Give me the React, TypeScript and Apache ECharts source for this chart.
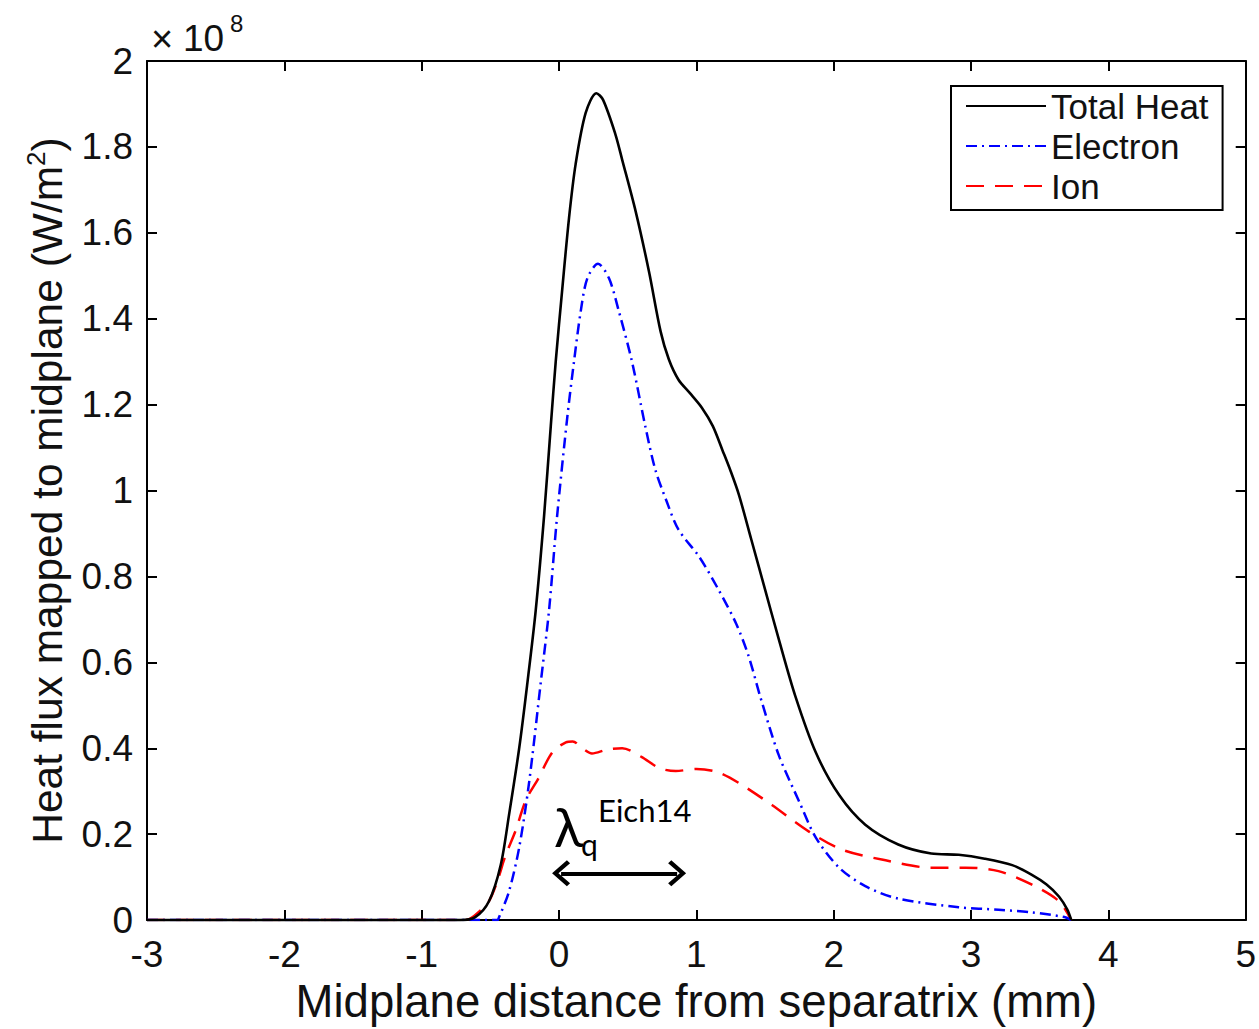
import React, { useEffect, useRef } from 'react';
import * as echarts from 'echarts';

// Heat flux values in units of 1e8 W/m^2, x in mm
const totalX = [-3, -0.72, -0.61, -0.51, -0.424, -0.364, -0.29, -0.23, -0.17, -0.109, -0.06, -0.024, 0.024, 0.073, 0.121, 0.194, 0.272, 0.32, 0.41, 0.46, 0.558, 0.655, 0.74, 0.8, 0.87, 0.95, 1.04, 1.12, 1.19, 1.25, 1.31, 1.4, 1.5, 1.6, 1.72, 1.87, 2.04, 2.23, 2.47, 2.71, 2.91, 3.1, 3.3, 3.44, 3.55, 3.64, 3.7, 3.73];
const totalY = [0, 0, 0.007, 0.044, 0.129, 0.245, 0.4, 0.553, 0.72, 0.94, 1.15, 1.3, 1.47, 1.635, 1.76, 1.879, 1.925, 1.91, 1.83, 1.77, 1.65, 1.51, 1.37, 1.305, 1.258, 1.228, 1.193, 1.15, 1.094, 1.045, 0.99, 0.886, 0.77, 0.654, 0.522, 0.39, 0.291, 0.222, 0.176, 0.155, 0.152, 0.143, 0.128, 0.106, 0.083, 0.055, 0.025, 0];

const electronX = [-3, -0.45, -0.436, -0.364, -0.29, -0.218, -0.133, -0.073, -0.014, 0.06, 0.109, 0.158, 0.206, 0.284, 0.364, 0.436, 0.53, 0.63, 0.7, 0.78, 0.87, 1.02, 1.16, 1.29, 1.38, 1.47, 1.6, 1.75, 1.87, 2.04, 2.23, 2.47, 2.91, 3.2, 3.44, 3.68, 3.73];
const electronY = [0, 0, 0.007, 0.067, 0.169, 0.32, 0.553, 0.72, 0.94, 1.17, 1.3, 1.417, 1.494, 1.528, 1.494, 1.417, 1.302, 1.147, 1.05, 0.978, 0.909, 0.846, 0.77, 0.69, 0.615, 0.515, 0.384, 0.275, 0.192, 0.122, 0.079, 0.05, 0.03, 0.024, 0.018, 0.007, 0];

const ionX = [-3, -0.7, -0.65, -0.58, -0.51, -0.45, -0.39, -0.32, -0.24, -0.15, -0.05, 0.05, 0.1, 0.17, 0.24, 0.35, 0.46, 0.6, 0.73, 0.85, 1.0, 1.15, 1.31, 1.55, 1.82, 2.06, 2.35, 2.71, 2.96, 3.2, 3.44, 3.64, 3.73];
const ionY = [0, 0, 0.003, 0.02, 0.044, 0.09, 0.15, 0.205, 0.28, 0.33, 0.39, 0.414, 0.416, 0.4, 0.388, 0.397, 0.4, 0.38, 0.354, 0.347, 0.352, 0.345, 0.319, 0.268, 0.206, 0.164, 0.141, 0.122, 0.122, 0.114, 0.083, 0.044, 0];

const seriesNames = ['Total Heat', 'Electron', 'Ion'];
const xRange = [-3, 5];
const yRange = [0, 2];
const yStep = 0.2;
const xStep = 1;

// λq annotation (data coordinates)
const lambdaArrowStart = [0.015, 0.109];
const lambdaArrowEnd = [0.86, 0.109];
const lambdaLabelAt = [-0.036, 0.18];

const FONT = '"Liberation Sans", Arial, Helvetica, sans-serif';
const ANNOT_FONT = 'Lato, "Open Sans", sans-serif';

export default function App() {
  const ref = useRef<HTMLDivElement>(null);
  useEffect(() => {
    document.body.style.margin = '0';
    const chart = echarts.init(ref.current!, null, { renderer: 'svg' });
    const pair = (xs: number[], ys: number[]) => xs.map((x, i) => [x, ys[i]]);
    const axisLine = { show: true, onZero: false, lineStyle: { color: '#000', width: 2 } };
    const axisTick = { show: true, inside: true, length: 10, lineStyle: { color: '#000', width: 2 } };
    const chevron = 'path://M13,0 L26,14 L23,17 L13,6 L3,17 L0,14 Z';

    chart.setOption({
      animation: false,
      backgroundColor: '#fff',
      grid: { left: 147, right: 12, top: 61, bottom: 103, containLabel: false },
      xAxis: [
        {
          type: 'value', min: xRange[0], max: xRange[1], interval: xStep, position: 'bottom',
          axisLine, axisTick,
          axisLabel: { fontSize: 37, color: '#111', margin: 16, fontFamily: FONT },
          splitLine: { show: false },
          name: 'Midplane distance from separatrix (mm)', nameLocation: 'middle', nameGap: 52,
          nameTextStyle: { fontSize: 45.5, color: '#111', fontFamily: FONT },
        },
        {
          type: 'value', min: xRange[0], max: xRange[1], interval: xStep, position: 'top',
          axisLine, axisTick, axisLabel: { show: false }, splitLine: { show: false },
        },
      ],
      yAxis: [
        {
          type: 'value', min: yRange[0], max: yRange[1], interval: yStep, position: 'left',
          axisLine, axisTick,
          axisLabel: {
            fontSize: 37, color: '#111', margin: 14, fontFamily: FONT,
            formatter: (v: number) => String(+v.toFixed(1)),
          },
          splitLine: { show: false },
          name: 'Heat flux mapped to midplane (W/m{sup|2})', nameLocation: 'middle', nameGap: 76,
          nameTextStyle: {
            fontSize: 42.5, color: '#111', fontFamily: FONT,
            rich: { sup: { fontSize: 26, color: '#111', fontFamily: FONT, padding: [0, 0, 22, 0] } },
          },
        },
        {
          type: 'value', min: yRange[0], max: yRange[1], interval: yStep, position: 'right',
          axisLine, axisTick, axisLabel: { show: false }, splitLine: { show: false },
        },
      ],
      legend: {
        data: seriesNames,
        orient: 'vertical',
        left: 951, top: 86,
        padding: [2, 14, 6, 14],
        itemWidth: 80, itemHeight: 20, itemGap: 4,
        itemStyle: { opacity: 0, borderWidth: 0 },
        backgroundColor: '#fff', borderColor: '#000', borderWidth: 2,
        textStyle: { fontSize: 35, color: '#111', fontFamily: FONT, lineHeight: 36 },
      },
      series: [
        {
          name: seriesNames[0], type: 'line', data: pair(totalX, totalY), xAxisIndex: 0, yAxisIndex: 0,
          symbol: 'none', showSymbol: false, smooth: 0.3, z: 3,
          lineStyle: { color: '#000', width: 2.6, type: 'solid' }, itemStyle: { color: '#000' },
          markLine: {
            silent: true, symbol: [chevron, chevron], symbolSize: [26, 18],
            label: { show: false },
            lineStyle: { color: '#000', width: 4, type: 'solid' },
            itemStyle: { color: '#000' },
            data: [[{ coord: lambdaArrowStart }, { coord: lambdaArrowEnd }]],
          },
        },
        {
          name: seriesNames[1], type: 'line', data: pair(electronX, electronY),
          symbol: 'none', showSymbol: false, smooth: 0.3, z: 2,
          lineStyle: { color: '#0000ff', width: 2.5, type: [11, 5, 2, 5] }, itemStyle: { color: '#0000ff' },
        },
        {
          name: seriesNames[2], type: 'line', data: pair(ionX, ionY),
          symbol: 'none', showSymbol: false, smooth: 0.3, z: 1,
          lineStyle: { color: '#ff0000', width: 2.5, type: [18, 11] }, itemStyle: { color: '#ff0000' },
        },
      ],
    });

    const corner = chart.convertToPixel({ xAxisIndex: 0, yAxisIndex: 0 }, [xRange[0], yRange[1]]) as number[];
    const lam = chart.convertToPixel({ xAxisIndex: 0, yAxisIndex: 0 }, lambdaLabelAt) as number[];
    chart.setOption({
      graphic: [
        { type: 'text', x: corner[0] + 4, y: corner[1] - 22, style: { text: '×', font: `38px ${FONT}`, fill: '#111', verticalAlign: 'middle', align: 'left' } },
        { type: 'text', x: corner[0] + 36, y: corner[1] - 23, style: { text: '10', font: `37px ${FONT}`, fill: '#111', verticalAlign: 'middle', align: 'left' } },
        { type: 'text', x: corner[0] + 83, y: corner[1] - 38, style: { text: '8', font: `24px ${FONT}`, fill: '#111', verticalAlign: 'middle', align: 'left' } },
        { type: 'text', x: lam[0], y: lam[1] + 11, style: { text: 'λ', font: `54px ${ANNOT_FONT}`, fill: '#000', verticalAlign: 'bottom', align: 'left' } },
        { type: 'text', x: lam[0] + 27, y: lam[1] + 16, style: { text: 'q', font: `30px ${ANNOT_FONT}`, fill: '#000', verticalAlign: 'bottom', align: 'left' } },
        { type: 'text', x: lam[0] + 44, y: lam[1] - 17, style: { text: 'Eich14', font: `31px ${ANNOT_FONT}`, fill: '#000', verticalAlign: 'bottom', align: 'left' } },
      ],
    });

    return () => chart.dispose();
  }, []);
  return <div ref={ref} style={{ width: 1259, height: 1029 }} />;
}
